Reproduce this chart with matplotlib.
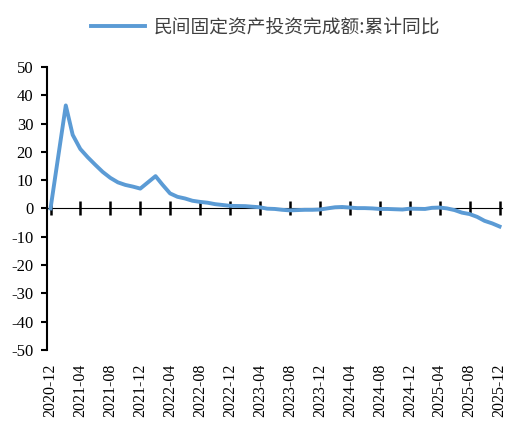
import matplotlib.pyplot as plt
import pandas as pd

plt.rcParams['axes.unicode_minus'] = False

# 民间固定资产投资完成额:累计同比 (%), 1月无数据
months = ['2020-12',
          '2021-02', '2021-03', '2021-04', '2021-05', '2021-06', '2021-07', '2021-08',
          '2021-09', '2021-10', '2021-11', '2021-12',
          '2022-02', '2022-03', '2022-04', '2022-05', '2022-06', '2022-07', '2022-08',
          '2022-09', '2022-10', '2022-11', '2022-12',
          '2023-02', '2023-03', '2023-04', '2023-05', '2023-06', '2023-07', '2023-08',
          '2023-09', '2023-10', '2023-11', '2023-12',
          '2024-02', '2024-03', '2024-04', '2024-05', '2024-06', '2024-07', '2024-08',
          '2024-09', '2024-10', '2024-11', '2024-12',
          '2025-02', '2025-03', '2025-04', '2025-05', '2025-06', '2025-07', '2025-08',
          '2025-09', '2025-10', '2025-11', '2025-12']
values = [0.0,
          36.4, 26.0, 21.0, 18.1, 15.4, 12.9, 10.8, 9.2, 8.3, 7.7, 7.0,
          11.4, 8.4, 5.3, 4.1, 3.5, 2.7, 2.3, 2.0, 1.5, 1.2, 0.9,
          0.8, 0.6, 0.4, -0.1, -0.2, -0.5, -0.7, -0.6, -0.5, -0.5, -0.4,
          0.4, 0.5, 0.3, 0.1, 0.1, 0.0, -0.2, -0.2, -0.3, -0.4, -0.1,
          -0.2, 0.2, 0.3, 0.0, -0.6, -1.5, -2.0, -3.0, -4.4, -5.3, -6.4]
series_name = '民间固定资产投资完成额:累计同比'
y_ticks = list(range(-50, 51, 10))

dates = pd.to_datetime(months, format='%Y-%m')
tick_dates = pd.date_range('2020-12-01', '2025-12-01', freq='4MS')

fig = plt.figure(figsize=(5.12, 4.21), dpi=100)
ax = fig.add_axes([0.092, 0.169, 0.888, 0.672])

ax.plot(dates, values, color='#5B9BD5', linewidth=2.8, label=series_name)

ax.set_ylim(-50, 50)
ax.set_yticks(y_ticks)
ax.set_yticklabels([str(v) for v in y_ticks], fontfamily=['Liberation Serif', 'DejaVu Serif'],
                   fontsize=12)
ax.set_xlim(pd.Timestamp('2020-11-17'), pd.Timestamp('2025-12-10'))

for s in ['top', 'right', 'bottom']:
    ax.spines[s].set_visible(False)
ax.spines['left'].set_linewidth(1.5)
ax.tick_params(axis='y', direction='out', length=4, width=1.5, pad=6)

# 底部只放标签
ax.set_xticks(tick_dates)
ax.set_xticklabels([d.strftime('%Y-%m') for d in tick_dates], rotation=90,
                   fontfamily=['Liberation Serif', 'DejaVu Serif'], fontsize=11.5)
ax.tick_params(axis='x', length=0, pad=10)

# 零轴与刻度线
zero_ax = ax.secondary_xaxis(0.5)
zero_ax.set_xticks(tick_dates)
zero_ax.set_xticklabels([])
zero_ax.tick_params(direction='inout', length=10, width=1.8)
zero_ax.spines['bottom'].set_linewidth(1.5)

fig.legend(loc='upper center', bbox_to_anchor=(0.518, 1.0), frameon=False, handlelength=2.9,
           handletextpad=0.45, labelcolor='#404040',
           prop={'family': ['Noto Sans CJK SC', 'DejaVu Sans'], 'size': 13.5})

plt.savefig('out.png', dpi=100)
